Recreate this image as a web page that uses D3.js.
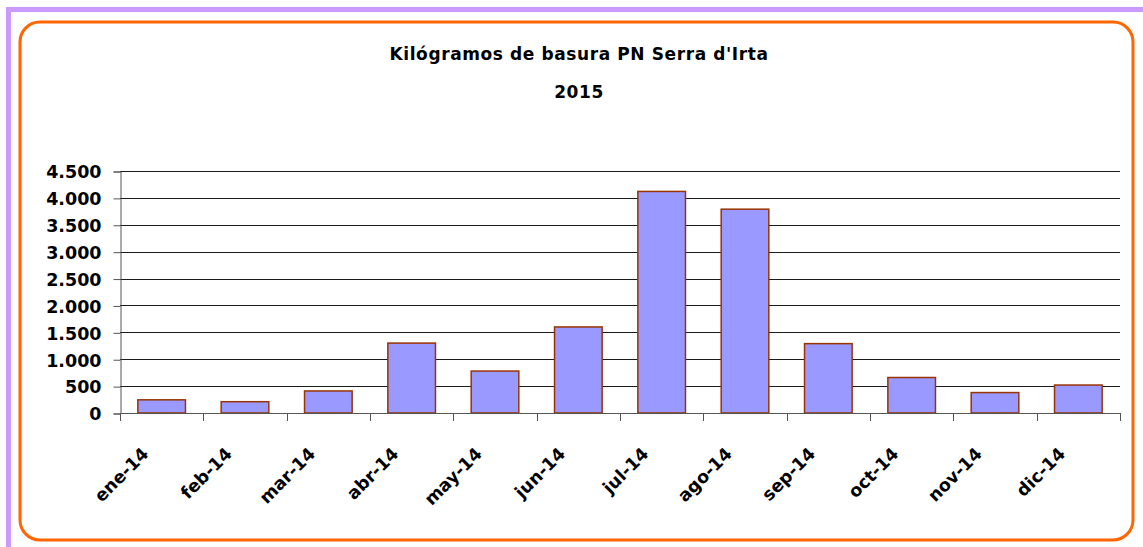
<!DOCTYPE html>
<html>
<head>
<meta charset="utf-8">
<script src="https://cdn.jsdelivr.net/npm/d3@7"></script>
<style>
    body { margin: 0; background: #fff; }
    text { font-family: "DejaVu Sans", sans-serif; font-weight: bold; fill: #000; }
</style>
</head>
<body>
<div id="chart"></div>
<script>
// Chart data
const months = ["ene-14", "feb-14", "mar-14", "abr-14", "may-14", "jun-14",
    "jul-14", "ago-14", "sep-14", "oct-14", "nov-14", "dic-14"];
const kilos = [245, 210, 410, 1300, 780, 1600, 4120, 3790, 1290, 660, 380, 520];
const yTicks = [0, 500, 1000, 1500, 2000, 2500, 3000, 3500, 4000, 4500];
const titleLines = ["Kilógramos de basura PN Serra d'Irta", "2015"];

const width = 1143;
const height = 547;

const svg = d3.select("#chart")
    .append("svg")
    .attr("width", width)
    .attr("height", height);

// outer purple frame (only top and left visible)
svg.append("rect")
    .attr("x", 8.5)
    .attr("y", 9.5)
    .attr("width", 1200)
    .attr("height", 600)
    .attr("fill", "none")
    .attr("stroke", "#cc99ff")
    .attr("stroke-width", 5);

// orange rounded chart area
svg.append("rect")
    .attr("x", 20)
    .attr("y", 22)
    .attr("width", 1113)
    .attr("height", 518)
    .attr("rx", 20)
    .attr("fill", "#fff")
    .attr("stroke", "#ff6600")
    .attr("stroke-width", 3);

const plot = { left: 120, right: 1120, top: 171, bottom: 413 };

const x = d3.scaleBand()
    .domain(months)
    .range([plot.left, plot.right])
    .paddingInner(0.4286)
    .paddingOuter(0.2143);

const y = d3.scaleLinear()
    .domain([0, 4500])
    .range([plot.bottom, plot.top]);

const fmt = d3.formatLocale({ decimal: ",", thousands: ".", grouping: [3], currency: ["", "€"] }).format(",");

// gridlines
svg.append("g")
    .selectAll("line")
    .data(yTicks.filter(d => d > 0))
    .join("line")
    .attr("x1", plot.left)
    .attr("x2", plot.right)
    .attr("y1", d => Math.round(y(d)) + 0.5)
    .attr("y2", d => Math.round(y(d)) + 0.5)
    .attr("stroke", "#1a1a1a")
    .attr("stroke-width", 1);

// y axis
const yAxis = svg.append("g")
    .attr("transform", `translate(${plot.left + 0.5},0.5)`)
    .call(d3.axisLeft(y).tickValues(yTicks).tickFormat(fmt).tickSize(7).tickPadding(12));
yAxis.select(".domain").attr("stroke", "#555");
yAxis.selectAll(".tick line").attr("stroke", "#555");
yAxis.selectAll("text")
    .attr("fill", "#000")
    .style("font-size", "17.5px")
    .attr("dy", "0.36em");

// bars
svg.append("g")
    .selectAll("rect")
    .data(kilos)
    .join("rect")
    .attr("x", (d, i) => x(months[i]))
    .attr("y", d => y(d))
    .attr("width", x.bandwidth())
    .attr("height", d => y(0) - y(d))
    .attr("fill", "#9999ff")
    .attr("stroke", "#993300")
    .attr("stroke-width", 1.5);

// x axis baseline and category separators
const bounds = months.map(m => x(m) - x.bandwidth() * 0.375);
bounds.push(plot.right);

const xAxis = svg.append("g");
xAxis.append("line")
    .attr("x1", plot.left)
    .attr("x2", plot.right)
    .attr("y1", plot.bottom + 0.5)
    .attr("y2", plot.bottom + 0.5)
    .attr("stroke", "#555");
xAxis.selectAll(".sep")
    .data(bounds)
    .join("line")
    .attr("class", "sep")
    .attr("x1", d => Math.round(d) + 0.5)
    .attr("x2", d => Math.round(d) + 0.5)
    .attr("y1", plot.bottom)
    .attr("y2", plot.bottom + 8)
    .attr("stroke", "#555");

// rotated month labels
xAxis.selectAll(".lbl")
    .data(months)
    .join("text")
    .attr("class", "lbl")
    .attr("text-anchor", "end")
    .attr("transform", d => `translate(${x(d) + x.bandwidth() / 2 - 12},${plot.bottom + 42}) rotate(-45)`)
    .style("font-size", "17.5px")
    .text(d => d);

// title
svg.append("g")
    .selectAll("text")
    .data(titleLines)
    .join("text")
    .attr("x", 579)
    .attr("y", (d, i) => 60 + i * 38)
    .attr("text-anchor", "middle")
    .style("font-size", "17px")
    .style("letter-spacing", "0.6px")
    .text(d => d);
</script>
</body>
</html>
